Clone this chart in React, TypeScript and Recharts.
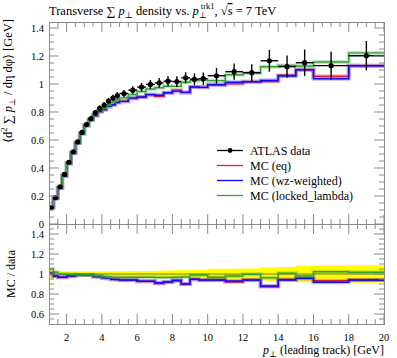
import React from "react";
import { ComposedChart, Line, Area, Scatter, ErrorBar, XAxis, YAxis, ReferenceLine } from "recharts";

// bin edges of the leading-track pT histogram [GeV]
const binEdges = [
  1, 1.25, 1.5, 1.75, 2, 2.25, 2.5, 2.75, 3, 3.25, 3.5, 3.75, 4, 4.25, 4.5, 4.75, 5,
  5.5, 6, 6.5, 7, 7.5, 8, 8.5, 9, 9.5, 10, 11, 12, 13, 14, 15, 16, 18, 20,
];

const atlasData = [
  0.116, 0.188, 0.266, 0.355, 0.441, 0.516, 0.586, 0.654, 0.71, 0.753, 0.795, 0.826, 0.85, 0.878, 0.9, 0.918,
  0.932, 0.956, 0.978, 0.997, 1.008, 1.02, 1.017, 1.044, 1.034, 1.038,
  1.059, 1.088, 1.081, 1.166, 1.124, 1.152, 1.131, 1.202,
];
const atlasErr = [
  0.006, 0.005, 0.007, 0.009, 0.011, 0.013, 0.015, 0.017, 0.018, 0.019, 0.02, 0.021, 0.022, 0.023, 0.024, 0.025,
  0.026, 0.028, 0.03, 0.031, 0.034, 0.036, 0.038, 0.04, 0.042, 0.045,
  0.056, 0.058, 0.06, 0.078, 0.08, 0.095, 0.1, 0.105,
];

const mcEq = [
  0.117, 0.184, 0.257, 0.343, 0.432, 0.506, 0.58, 0.647, 0.703, 0.745, 0.775, 0.803, 0.818, 0.84, 0.852, 0.868,
  0.876, 0.899, 0.907, 0.924, 0.912, 0.938, 0.956, 0.94, 0.979, 0.976,
  0.995, 1.001, 1.016, 1.018, 1.062, 1.102, 1.055, 1.13,
];
const mcWz = [
  0.117, 0.184, 0.257, 0.343, 0.432, 0.506, 0.58, 0.647, 0.703, 0.745, 0.775, 0.803, 0.818, 0.84, 0.852, 0.868,
  0.876, 0.899, 0.907, 0.924, 0.92, 0.938, 0.949, 0.94, 0.979, 0.976,
  0.995, 1.012, 1.016, 1.026, 1.057, 1.102, 1.037, 1.13,
];
const mcLocked = [
  0.122, 0.191, 0.266, 0.355, 0.44, 0.514, 0.58, 0.647, 0.705, 0.745, 0.783, 0.812, 0.829, 0.852, 0.87, 0.888,
  0.901, 0.924, 0.946, 0.964, 0.973, 0.984, 0.983, 1.013, 1.024, 1.028,
  1.024, 1.066, 1.078, 1.123, 1.132, 1.129, 1.157, 1.222,
];

const ratioEq = [
  1.007, 0.98, 0.967, 0.967, 0.98, 0.98, 0.99, 0.99, 0.99, 0.99, 0.975, 0.972, 0.962, 0.957, 0.947, 0.945,
  0.94, 0.94, 0.927, 0.927, 0.905, 0.92, 0.94, 0.9, 0.947, 0.94,
  0.94, 0.92, 0.94, 0.873, 0.945, 0.957, 0.933, 0.94,
];
const ratioWz = [
  1.007, 0.98, 0.967, 0.967, 0.98, 0.98, 0.99, 0.99, 0.99, 0.99, 0.975, 0.972, 0.962, 0.957, 0.947, 0.945,
  0.94, 0.94, 0.927, 0.927, 0.913, 0.92, 0.933, 0.9, 0.947, 0.94,
  0.94, 0.93, 0.94, 0.88, 0.94, 0.957, 0.917, 0.94,
];
const ratioLocked = [
  1.05, 1.017, 1.0, 1.0, 0.997, 0.997, 0.99, 0.99, 0.993, 0.99, 0.985, 0.983, 0.975, 0.97, 0.967, 0.967,
  0.967, 0.967, 0.967, 0.967, 0.965, 0.965, 0.967, 0.97, 0.99, 0.99,
  0.967, 0.98, 0.997, 0.963, 1.007, 0.98, 1.023, 1.017,
];

const xMajorTicks = [2, 4, 6, 8, 10, 12, 14, 16, 18, 20];
const xMinorTicks = [
  1.5, 2.5, 3, 3.5, 4.5, 5, 5.5, 6.5, 7, 7.5, 8.5, 9, 9.5, 10.5, 11, 11.5,
  12.5, 13, 13.5, 14.5, 15, 15.5, 16.5, 17, 17.5, 18.5, 19, 19.5,
];
const mainMajorTicks = [0, 0.2, 0.4, 0.6, 0.8, 1, 1.2, 1.4];
const mainMinorTicks = [
  0.05, 0.1, 0.15, 0.25, 0.3, 0.35, 0.45, 0.5, 0.55, 0.65, 0.7, 0.75,
  0.85, 0.9, 0.95, 1.05, 1.1, 1.15, 1.25, 1.3, 1.35,
];
const ratioMajorTicks = [0.6, 0.8, 1, 1.2, 1.4];
const ratioMinorTicks = [0.55, 0.65, 0.7, 0.75, 0.85, 0.9, 0.95, 1.05, 1.1, 1.15, 1.25, 1.3, 1.35, 1.45];

const RED = "#f21d1d";
const BLUE = "#0a0aff";
const GREEN = "#36a036";
const FRAME = "#8a8a8a";
const FONT = "'Liberation Serif', 'DejaVu Serif', serif";

const legendNames = ["ATLAS data", "MC (eq)", "MC (wz-weighted)", "MC (locked_lambda)"];
const legendColors = ["#000", RED, BLUE, GREEN];

// layout
const PL = 49;
const PR = 384;
const MAIN_TOP = 22;
const MAIN_BOTTOM = 224;
const MAIN_MAX = (MAIN_BOTTOM - MAIN_TOP) / 140;
const RATIO_H = 100;

const stepRows = binEdges.map((x, i) => {
  const k = Math.min(i, atlasData.length - 1);
  const rel = atlasErr[k] / atlasData[k];
  return {
    x,
    eq: mcEq[k],
    wz: mcWz[k],
    locked: mcLocked[k],
    rEq: ratioEq[k],
    rWz: ratioWz[k],
    rLocked: ratioLocked[k],
    band: [1 - rel, 1 + rel],
  };
});

const atlasPoints = atlasData.map((y, i) => ({
  x: (binEdges[i] + binEdges[i + 1]) / 2,
  y,
  err: atlasErr[i],
  xerr: (binEdges[i + 1] - binEdges[i]) / 2,
}));

const isTick = (list: number[], v: number) => list.some((t) => Math.abs(t - v) < 1e-6);
const fmt = (v: number) => String(Math.round(v * 100) / 100);

function makeXTick(major: number[], top: number, bottom: number, labels: boolean) {
  return (props: any) => {
    const x = props.x;
    const v = props.payload.value;
    const big = isTick(major, v);
    const len = big ? 10 : 5;
    return (
      <g>
        <line x1={x} x2={x} y1={bottom} y2={bottom - len} stroke={FRAME} />
        <line x1={x} x2={x} y1={top} y2={top + len} stroke={FRAME} />
        {labels && big && (
          <text x={x} y={bottom + 13} dy="0.35em" textAnchor="middle" fontSize={10.5} fill="#000">
            {fmt(v)}
          </text>
        )}
      </g>
    );
  };
}

function makeYTick(major: number[]) {
  return (props: any) => {
    const y = props.y;
    const v = props.payload.value;
    const big = isTick(major, v);
    const len = big ? 10 : 5;
    return (
      <g>
        <line x1={PL} x2={PL + len} y1={y} y2={y} stroke={FRAME} />
        <line x1={PR - len} x2={PR} y1={y} y2={y} stroke={FRAME} />
        {big && (
          <text x={PL - 5} y={y} dy="0.35em" textAnchor="end" fontSize={10.5} fill="#000">
            {fmt(v)}
          </text>
        )}
      </g>
    );
  };
}

function stepLines(keys: string[], colors: string[]) {
  const out: React.ReactNode[] = [];
  keys.forEach((k, i) => {
    out.push(
      <Line key={k + "-halo"} type="stepAfter" dataKey={k} stroke={colors[i]} strokeOpacity={0.28}
        strokeWidth={4} dot={false} activeDot={false} isAnimationActive={false} />
    );
    out.push(
      <Line key={k} type="stepAfter" dataKey={k} stroke={colors[i]} strokeWidth={1.4}
        dot={false} activeDot={false} isAnimationActive={false} />
    );
  });
  return out;
}

const renderDot = (p: any) => <circle cx={p.cx} cy={p.cy} r={2.6} fill="#000" />;

export default function App() {
  return (
    <div style={{ position: "absolute", left: 0, top: 0, width: 397, height: 358, background: "#fff", fontFamily: FONT }}>
      <div style={{ position: "absolute", left: 0, top: 0 }}>
        <ComposedChart width={397} height={240} data={stepRows} margin={{ top: MAIN_TOP, right: 397 - PR, bottom: 240 - MAIN_BOTTOM, left: 0 }}>
          <XAxis type="number" dataKey="x" domain={[1, 20]} allowDataOverflow mirror
            ticks={[...xMajorTicks, ...xMinorTicks]} interval={0} tickLine={false} axisLine={false}
            tickSize={0} tickMargin={0} tick={makeXTick(xMajorTicks, MAIN_TOP, MAIN_BOTTOM, false)} />
          <YAxis type="number" domain={[0, MAIN_MAX]} allowDataOverflow width={PL}
            ticks={[...mainMajorTicks, ...mainMinorTicks]} interval={0} tickLine={false} axisLine={false}
            tickSize={0} tickMargin={0} tick={makeYTick(mainMajorTicks)} />
          {stepLines(["eq", "wz", "locked"], [RED, BLUE, GREEN])}
          <Scatter data={atlasPoints} dataKey="y" fill="#000" shape={renderDot} isAnimationActive={false}>
            <ErrorBar dataKey="err" direction="y" width={0} stroke="#000" strokeWidth={1.4} />
            <ErrorBar dataKey="xerr" direction="x" width={0} stroke="#000" strokeWidth={1.4} />
          </Scatter>
        </ComposedChart>
      </div>
      <div style={{ position: "absolute", left: 0, top: MAIN_BOTTOM }}>
        <ComposedChart width={397} height={134} data={stepRows} margin={{ top: 0, right: 397 - PR, bottom: 0, left: 0 }}>
          <XAxis type="number" dataKey="x" domain={[1, 20]} allowDataOverflow height={134 - RATIO_H}
            ticks={[...xMajorTicks, ...xMinorTicks]} interval={0} tickLine={false} axisLine={false}
            tickSize={0} tickMargin={0} tick={makeXTick(xMajorTicks, 0, RATIO_H, true)} />
          <YAxis type="number" domain={[0.5, 1.5]} allowDataOverflow width={PL}
            ticks={[...ratioMajorTicks, ...ratioMinorTicks]} interval={0} tickLine={false} axisLine={false}
            tickSize={0} tickMargin={0} tick={makeYTick(ratioMajorTicks)} />
          <Area type="stepAfter" dataKey="band" fill="#ffff00" fillOpacity={1} stroke="none" isAnimationActive={false} />
          <ReferenceLine y={1} stroke="#555" strokeWidth={0.8} />
          {stepLines(["rEq", "rWz", "rLocked"], [RED, BLUE, GREEN])}
        </ComposedChart>
      </div>
      <svg width={397} height={358} style={{ position: "absolute", left: 0, top: 0, pointerEvents: "none" }}>
        <rect x={PL + 0.5} y={MAIN_TOP + 0.5} width={PR - PL} height={MAIN_BOTTOM - MAIN_TOP} fill="none" stroke={FRAME} />
        <rect x={PL + 0.5} y={MAIN_BOTTOM + 0.5} width={PR - PL} height={RATIO_H} fill="none" stroke={FRAME} />
        <text x={49} y={15} fontSize={12.5} fill="#000">
          Transverse ∑ <tspan fontStyle="italic">p</tspan>
          <tspan fontSize={8.5} dy={3}>⊥</tspan>
          <tspan dy={-3}> density vs. </tspan>
          <tspan fontStyle="italic">p</tspan>
          <tspan fontSize={8.5} dy={3}>⊥</tspan>
          <tspan fontSize={8.5} dx={-6} dy={-9}>trk1</tspan>
          <tspan dy={6}>, √</tspan>
          <tspan style={{ textDecoration: "overline" }}>s</tspan>
          <tspan> = 7 TeV</tspan>
        </text>
        <text transform="rotate(-90)" x={-19} y={12} textAnchor="end" fontSize={12.5} fill="#000">
          ⟨d<tspan fontSize={8.5} dy={-5}>2</tspan>
          <tspan dy={5}> ∑ </tspan>
          <tspan fontStyle="italic">p</tspan>
          <tspan fontSize={8.5} dy={3}>⊥</tspan>
          <tspan dy={-3}> / dη dφ⟩ [GeV]</tspan>
        </text>
        <text transform="rotate(-90)" x={-(MAIN_BOTTOM + RATIO_H / 2)} y={15} textAnchor="middle" fontSize={12} fill="#000">
          MC / data
        </text>
        <text x={PR} y={354} textAnchor="end" fontSize={12} fill="#000">
          <tspan fontStyle="italic">p</tspan>
          <tspan fontSize={8.5} dy={3}>⊥</tspan>
          <tspan dy={-3}> (leading track) [GeV]</tspan>
        </text>
        {legendNames.map((name, i) => {
          const y = 150.5 + i * 15;
          return (
            <g key={name}>
              <line x1={217} x2={243} y1={y} y2={y} stroke={legendColors[i]} strokeWidth={1.3} />
              {i === 0 && <circle cx={230} cy={y} r={2.4} fill="#000" />}
              <text x={250} y={y} dy="0.35em" fontSize={12} fill="#000">
                {name}
              </text>
            </g>
          );
        })}
      </svg>
    </div>
  );
}
